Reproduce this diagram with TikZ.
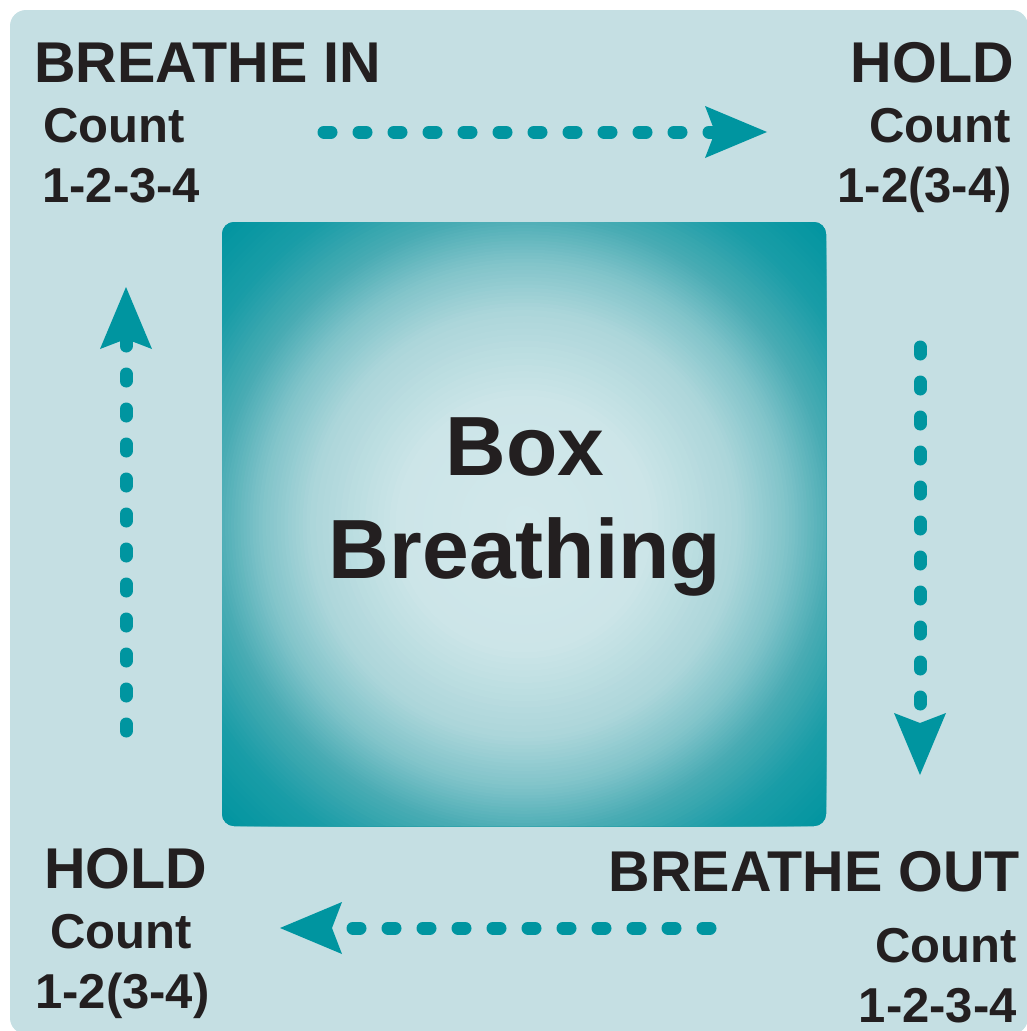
\documentclass[tikz,border=0pt]{standalone}
\usepackage{fontspec}
\setmainfont{Liberation Sans}
\usetikzlibrary{arrows.meta}
\definecolor{bgc}{HTML}{C5DFE3}
\definecolor{tealc}{HTML}{0095A0}
\definecolor{txtc}{HTML}{231F20}
\definecolor{gA}{HTML}{D2E8EB}
\definecolor{gAA}{HTML}{CCE5E8}
\definecolor{gB}{HTML}{ACD6DA}
\definecolor{gC}{HTML}{7FC3C9}
\definecolor{gD}{HTML}{4AACB4}
\definecolor{gE}{HTML}{1A9DA7}
\definecolor{gF}{HTML}{0094A0}
\tikzset{
  bigtitle/.style={inner sep=0pt, text=txtc, font=\fontsize{57.5}{57.5}\selectfont\bfseries},
  counttxt/.style={inner sep=0pt, text=txtc, font=\fontsize{49}{49}\selectfont\bfseries},
  centertxt/.style={inner sep=0pt, text=txtc, font=\fontsize{84}{84}\selectfont\bfseries},
  flow/.style={draw=tealc, line width=13pt, line cap=round, dash pattern=on 7pt off 28pt,
    -{Stealth[length=62pt, width=52pt, inset=10pt, line width=0pt]}},
}
\begin{document}
\begin{tikzpicture}[x=1pt, y=-1pt]
\useasboundingbox (0,0) rectangle (1026,1031);
% background panel
\fill[bgc, rounded corners=16pt] (10,10) rectangle (1028,1034);
% central box with radial glow (concentric fills)
\begin{scope}
  \clip[rounded corners=12pt] (222,222) rectangle (826,826);
  \foreach \fa/\fb/\ca/\cb in {0.85/1.00/gE/gF, 0.72/0.85/gD/gE, 0.62/0.72/gC/gD,
                                0.50/0.62/gB/gC, 0.30/0.50/gAA/gB, 0.00/0.30/gA/gAA}{
    \foreach \i in {0,...,13}{
      \pgfmathsetmacro\rr{428*(\fb-(\fb-\fa)*\i/14)}
      \pgfmathtruncatemacro\pct{100*(1-\i/14)}
      \fill[\cb!\pct!\ca] (524,524) circle [radius=\rr pt];
    }
  }
\end{scope}
\node[centertxt, anchor=base] (box1) at (525,475) {Box};
\node[centertxt, anchor=base] (box2) at (525,578) {Breathing};
% corner labels
\node[bigtitle, anchor=base west] (inT) at (34,82) {BREATHE IN};
\node[counttxt, anchor=base west] (inC) at (43,142) {Count};
\node[counttxt, anchor=base west] (inN) at (42,202) {1-2-3-4};
\node[bigtitle, anchor=base east] (h1T) at (1014,82) {HOLD};
\node[counttxt, anchor=base east] (h1C) at (1011,142) {Count};
\node[counttxt, anchor=base east] (h1N) at (1012,202) {1-2(3-4)};
\node[bigtitle, anchor=base east] (outT) at (1020,891) {BREATHE OUT};
\node[counttxt, anchor=base east] (outC) at (1017,962) {Count};
\node[counttxt, anchor=base east] (outN) at (1017,1022) {1-2-3-4};
\node[bigtitle, anchor=base west] (h2T) at (44,888) {HOLD};
\node[counttxt, anchor=base west] (h2C) at (50,948) {Count};
\node[counttxt, anchor=base west] (h2N) at (35,1008) {1-2(3-4)};
% arrows
\coordinate (topS) at (324,132);
\coordinate (topE) at (767,132);
\coordinate (rgtS) at (920,347);
\coordinate (rgtE) at (920,775);
\coordinate (botS) at (710,928);
\coordinate (botE) at (280,928);
\coordinate (lftS) at (126,731);
\coordinate (lftE) at (126,287);
\draw[flow] (topS) -- (topE);
\draw[flow] (rgtS) -- (rgtE);
\draw[flow] (botS) -- (botE);
\draw[flow] (lftS) -- (lftE);
\end{tikzpicture}
\end{document}
